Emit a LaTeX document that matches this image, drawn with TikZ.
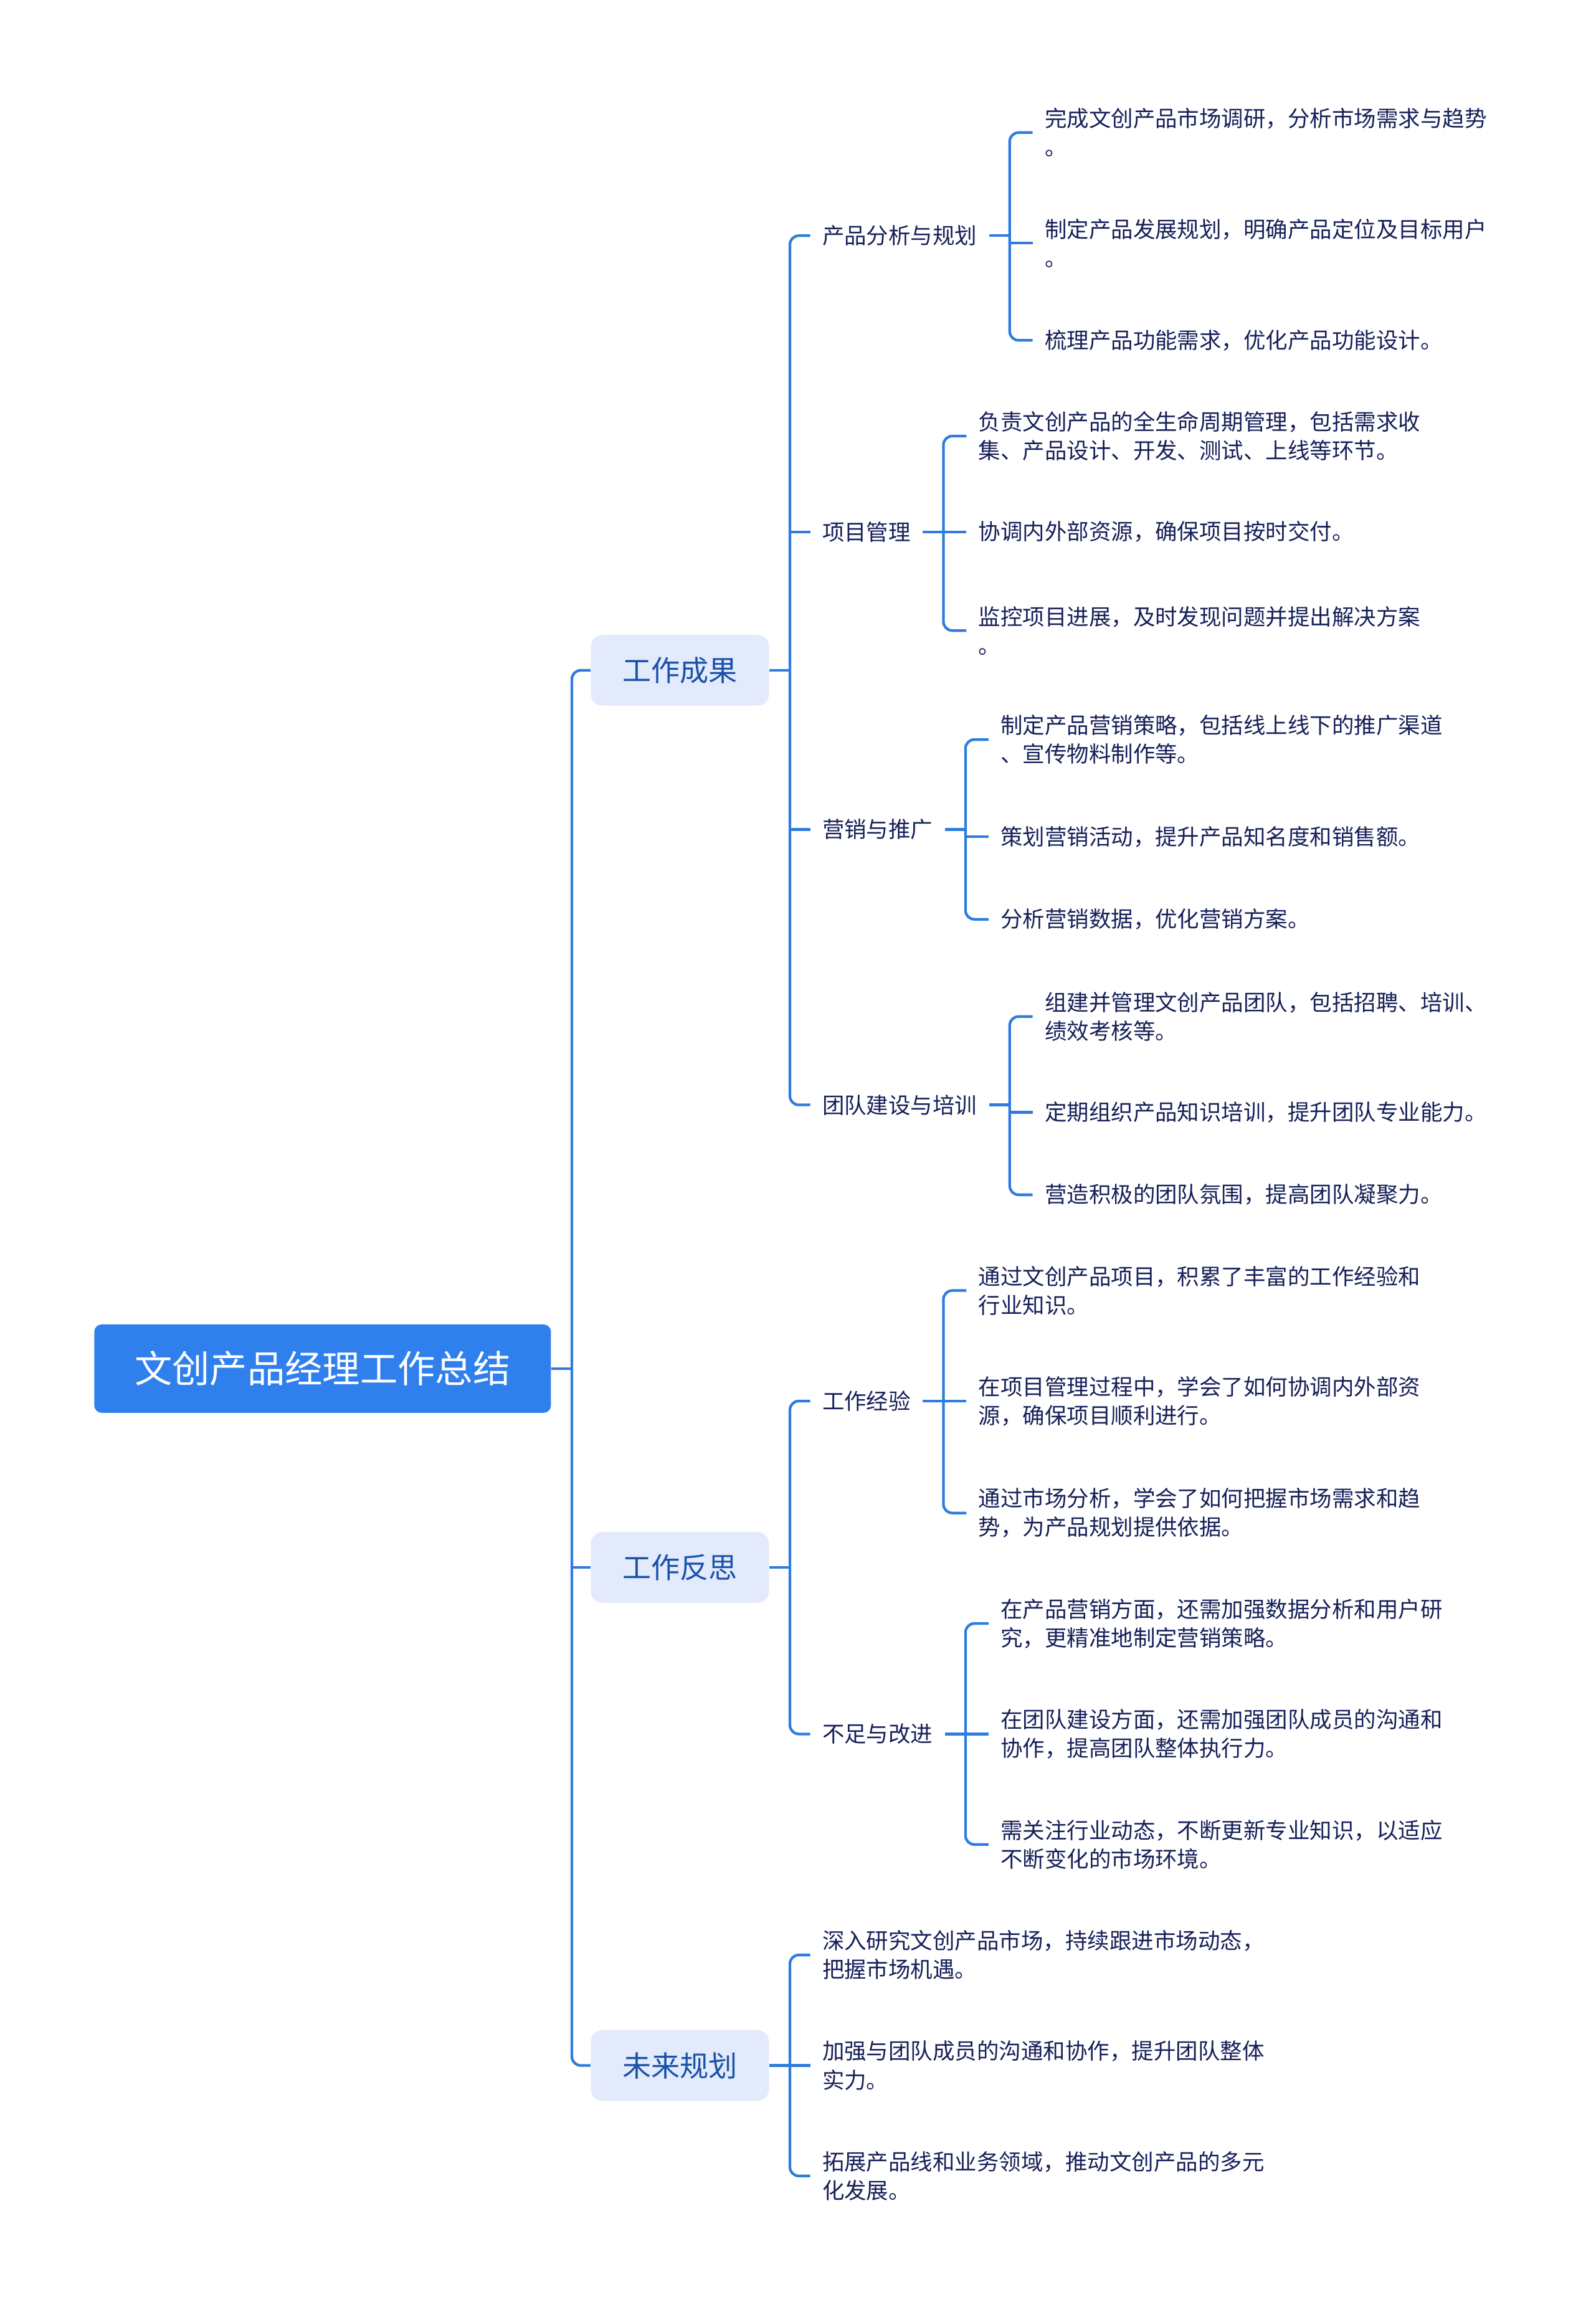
\documentclass[tikz,border=0pt]{standalone}
\usepackage{fontspec}
\setmainfont{Noto Sans CJK SC}
\usepackage{xcolor}
\definecolor{MapBlue}{RGB}{47, 128, 237}
\definecolor{LineBlue}{RGB}{46, 124, 222}
\definecolor{TopicFill}{RGB}{226, 234, 251}
\definecolor{TopicText}{RGB}{26, 82, 170}
\definecolor{LeafText}{RGB}{22, 32, 88}
\usepackage{tikz}

\begin{document}
\begin{tikzpicture}[
  x=1pt, y=-1pt,
  rootbox/.style={rectangle, rounded corners=5pt, fill=MapBlue,
    minimum width=310pt, minimum height=60pt,
    font=\fontsize{25.5}{30}\selectfont\color{white}},
  topicbox/.style={rectangle, rounded corners=8pt, fill=TopicFill,
    minimum width=121pt, minimum height=48pt,
    font=\fontsize{19.5}{23}\selectfont\color{TopicText}},
  subtopic/.style={anchor=west, inner xsep=8pt, inner ysep=2pt,
    font=\fontsize{15}{19.5}\selectfont\color{LeafText}},
  leaf/.style={anchor=west, inner xsep=8pt, inner ysep=2pt, align=left,
    font=\fontsize{15}{19.5}\selectfont\color{LeafText}},
  link/.style={draw=LineBlue, line width=1.8pt, rounded corners=6pt}
]
  \useasboundingbox (0,0) rectangle (1083,1568);

  \node[rootbox] (root) at (219, 929) {文创产品经理工作总结};

  \node[topicbox] (res)  at (461.5, 455)  {工作成果};
  \node[topicbox] (refl) at (461.5, 1064) {工作反思};
  \node[topicbox] (plan) at (461.5, 1402) {未来规划};

  \node[subtopic] (pa) at (550, 160) {产品分析与规划};
  \node[subtopic] (pm) at (550, 361) {项目管理};
  \node[subtopic] (mk) at (550, 563) {营销与推广};
  \node[subtopic] (tm) at (550, 750) {团队建设与培训};
  \node[subtopic] (ex) at (550, 951) {工作经验};
  \node[subtopic] (im) at (550, 1177) {不足与改进};

  \node[leaf] (pa1) at (701, 90)  {完成文创产品市场调研，分析市场需求与趋势\\。};
  \node[leaf] (pa2) at (701, 165) {制定产品发展规划，明确产品定位及目标用户\\。};
  \node[leaf] (pa3) at (701, 231) {梳理产品功能需求，优化产品功能设计。};

  \node[leaf] (pm1) at (656, 296) {负责文创产品的全生命周期管理，包括需求收\\集、产品设计、开发、测试、上线等环节。};
  \node[leaf] (pm2) at (656, 361) {协调内外部资源，确保项目按时交付。};
  \node[leaf] (pm3) at (656, 428) {监控项目进展，及时发现问题并提出解决方案\\。};

  \node[leaf] (mk1) at (671, 502) {制定产品营销策略，包括线上线下的推广渠道\\、宣传物料制作等。};
  \node[leaf] (mk2) at (671, 568) {策划营销活动，提升产品知名度和销售额。};
  \node[leaf] (mk3) at (671, 624) {分析营销数据，优化营销方案。};

  \node[leaf] (tm1) at (701, 690) {组建并管理文创产品团队，包括招聘、培训、\\绩效考核等。};
  \node[leaf] (tm2) at (701, 755) {定期组织产品知识培训，提升团队专业能力。};
  \node[leaf] (tm3) at (701, 811) {营造积极的团队氛围，提高团队凝聚力。};

  \node[leaf] (ex1) at (656, 876)  {通过文创产品项目，积累了丰富的工作经验和\\行业知识。};
  \node[leaf] (ex2) at (656, 951)  {在项目管理过程中，学会了如何协调内外部资\\源，确保项目顺利进行。};
  \node[leaf] (ex3) at (656, 1027) {通过市场分析，学会了如何把握市场需求和趋\\势，为产品规划提供依据。};

  \node[leaf] (im1) at (671, 1102) {在产品营销方面，还需加强数据分析和用户研\\究，更精准地制定营销策略。};
  \node[leaf] (im2) at (671, 1177) {在团队建设方面，还需加强团队成员的沟通和\\协作，提高团队整体执行力。};
  \node[leaf] (im3) at (671, 1252) {需关注行业动态，不断更新专业知识，以适应\\不断变化的市场环境。};

  \node[leaf] (fp1) at (550, 1327) {深入研究文创产品市场，持续跟进市场动态，\\把握市场机遇。};
  \node[leaf] (fp2) at (550, 1402) {加强与团队成员的沟通和协作，提升团队整体\\实力。};
  \node[leaf] (fp3) at (550, 1477) {拓展产品线和业务领域，推动文创产品的多元\\化发展。};

  \draw[link] (root.east) -- ++(14,0) coordinate (j0);
  \draw[link] (res.west) -| (j0) |- (plan.west);
  \draw[link] (j0 |- refl.west) -- (refl.west);

  \draw[link] (res.east) -- ++(14,0) coordinate (j1);
  \draw[link] (pa.west) -| (j1) |- (tm.west);
  \draw[link] (j1 |- pm.west) -- (pm.west);
  \draw[link] (j1 |- mk.west) -- (mk.west);

  \draw[link] (refl.east) -- ++(14,0) coordinate (j2);
  \draw[link] (ex.west) -| (j2) |- (im.west);

  \draw[link] (plan.east) -- ++(14,0) coordinate (j3);
  \draw[link] (fp1.west) -| (j3) |- (fp3.west);
  \draw[link] (j3 |- fp2.west) -- (fp2.west);

  \draw[link] (pa.east) -- ++(14,0) coordinate (ja);
  \draw[link] (pa1.west) -| (ja) |- (pa3.west);
  \draw[link] (ja |- pa2.west) -- (pa2.west);

  \draw[link] (pm.east) -- ++(14,0) coordinate (jb);
  \draw[link] (pm1.west) -| (jb) |- (pm3.west);
  \draw[link] (jb |- pm2.west) -- (pm2.west);

  \draw[link] (mk.east) -- ++(14,0) coordinate (jc);
  \draw[link] (mk1.west) -| (jc) |- (mk3.west);
  \draw[link] (jc |- mk2.west) -- (mk2.west);

  \draw[link] (tm.east) -- ++(14,0) coordinate (jd);
  \draw[link] (tm1.west) -| (jd) |- (tm3.west);
  \draw[link] (jd |- tm2.west) -- (tm2.west);

  \draw[link] (ex.east) -- ++(14,0) coordinate (je);
  \draw[link] (ex1.west) -| (je) |- (ex3.west);
  \draw[link] (je |- ex2.west) -- (ex2.west);

  \draw[link] (im.east) -- ++(14,0) coordinate (jf);
  \draw[link] (im1.west) -| (jf) |- (im3.west);
  \draw[link] (jf |- im2.west) -- (im2.west);
\end{tikzpicture}
\end{document}
